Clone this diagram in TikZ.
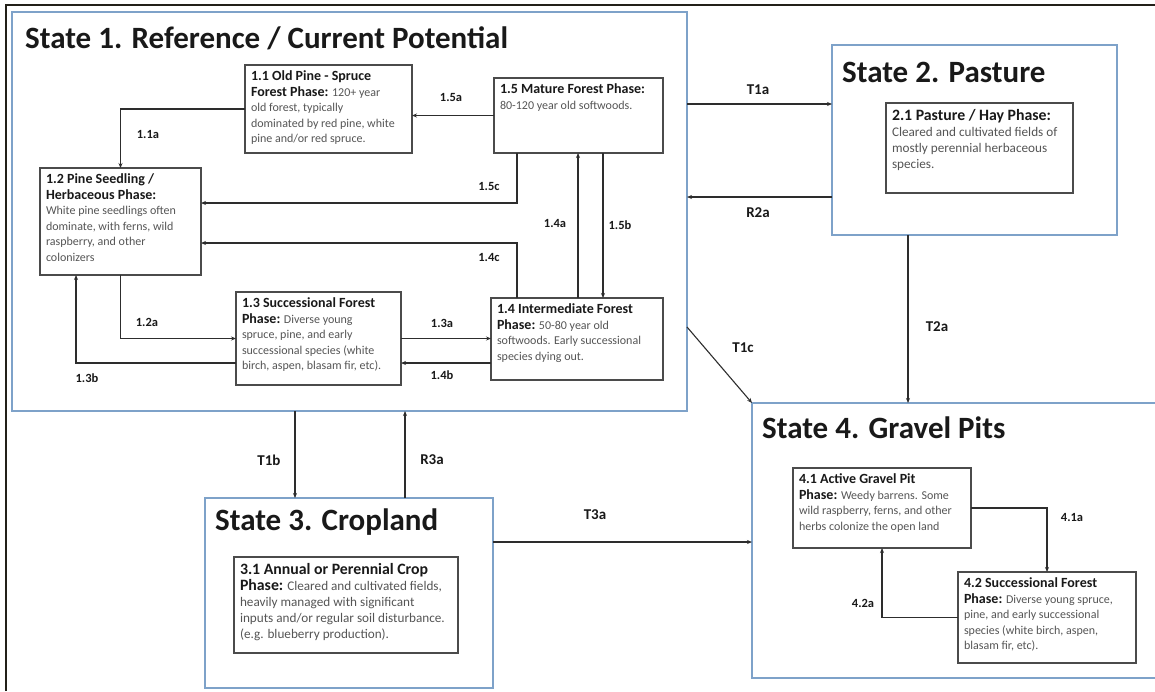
\documentclass[tikz,border=0pt]{standalone}
\usepackage{fontspec}
\setmainfont{Carlito}
\usetikzlibrary{positioning,arrows.meta}

\definecolor{stateblue}{RGB}{126,162,201}
\definecolor{boxgray}{RGB}{75,75,75}
\definecolor{arrgray}{RGB}{45,45,45}
\definecolor{txtgray}{RGB}{85,85,85}
\definecolor{hdblack}{RGB}{25,25,25}
\definecolor{framecol}{RGB}{35,32,25}

\newcommand{\hd}[1]{{\fontsize{14}{15.5}\selectfont\bfseries\color{hdblack}#1}}
\newcommand{\hdL}[1]{{\fontsize{15.8}{16}\selectfont\bfseries\color{hdblack}#1}}
\newcommand{\phtxt}[3]{\parbox[t][#2][t]{#1}{\raggedright\fontsize{12}{15.5}\selectfont\color{txtgray}#3}}
\newcommand{\phtxtL}[3]{\parbox[t][#2][t]{#1}{\raggedright\fontsize{13.2}{16}\selectfont\color{txtgray}#3}}

\begin{document}
\begin{tikzpicture}[
  x=1pt, y=-1pt,
  statebox/.style={draw=stateblue, line width=1.8pt, anchor=north west, inner sep=0pt, outer sep=0pt},
  phase/.style={draw=boxgray, line width=1.2pt, anchor=north west, inner sep=6pt, outer sep=0pt, fill=white},
  stitle/.style={anchor=west, inner sep=0pt, font=\fontsize{31}{31}\selectfont\bfseries, text=hdblack},
  lbl/.style={font=\fontsize{12.5}{13}\selectfont\bfseries, text=hdblack, inner sep=0pt},
  tlbl/.style={font=\fontsize{15}{16}\selectfont\bfseries, text=hdblack, inner sep=0pt},
  arr/.style={-{Stealth[length=5pt,width=4pt]}, draw=arrgray, line width=1.1pt},
  frame/.style={draw=framecol, line width=2pt}
]
\useasboundingbox (0,0) rectangle (1155,691);

\coordinate (fr1) at (6,691);
\coordinate (fr2) at (6,5);
\coordinate (fr3) at (1160,5);
\draw[frame] (fr1) -- (fr2) -- (fr3);

\node[statebox, minimum width=675pt, minimum height=399pt] (s1) at (12,12) {};
\node[statebox, minimum width=285pt, minimum height=190pt] (s2) at (832,45) {};
\node[statebox, minimum width=288pt, minimum height=190pt] (s3) at (205,498) {};
\node[statebox, minimum width=420pt, minimum height=275pt] (s4) at (752,403) {};

\node[stitle] (s1t) at (25,38) {State 1. Reference / Current Potential};
\node[stitle] (s2t) at (842,72) {State 2. Pasture};
\node[stitle] (s3t) at (215,522) {State 3. Cropland};
\node[stitle] (s4t) at (762,428) {State 4. Gravel Pits};

\node[phase] (b11) at (245,65) {\phtxt{155pt}{76pt}{\hd{1.1 Old Pine - Spruce}\\ \hd{Forest Phase:} 120+ year\\ old forest, typically\\ dominated by red pine, white\\ pine and/or red spruce.}};
\node[phase] (b15) at (494,78) {\phtxt{157pt}{63pt}{\hd{1.5 Mature Forest Phase:}\\ 80-120 year old softwoods.}};
\node[phase] (b12) at (40,168) {\phtxt{149pt}{95pt}{\hd{1.2 Pine Seedling /}\\ \hd{Herbaceous Phase:}\\ White pine seedlings often\\ dominate, with ferns, wild\\ raspberry, and other\\ colonizers}};
\node[phase] (b13) at (236,292) {\phtxt{153pt}{81pt}{\hd{1.3 Successional Forest}\\ \hd{Phase:} Diverse young\\ spruce, pine, and early\\ successional species (white\\ birch, aspen, blasam fir, etc).}};
\node[phase] (b14) at (491,298) {\phtxt{160pt}{70pt}{\hd{1.4 Intermediate Forest}\\ \hd{Phase:} 50-80 year old\\ softwoods. Early successional\\ species dying out.}};
\node[phase] (b21) at (886,103) {\phtxtL{175pt}{78pt}{\hdL{2.1 Pasture / Hay Phase:}\\ Cleared and cultivated fields of\\ mostly perennial herbaceous\\ species.}};
\node[phase] (b31) at (234,557) {\phtxtL{212pt}{84pt}{\hdL{3.1 Annual or Perennial Crop}\\ \hdL{Phase:} Cleared and cultivated fields,\\ heavily managed with significant\\ inputs and/or regular soil disturbance.\\ (e.g. blueberry production).}};
\node[phase] (b41) at (793,468) {\phtxt{166pt}{68pt}{\hd{4.1 Active Gravel Pit}\\ \hd{Phase:} Weedy barrens. Some\\ wild raspberry, ferns, and other\\ herbs colonize the open land}};
\node[phase] (b42) at (958,572) {\phtxt{166pt}{79pt}{\hd{4.2 Successional Forest}\\ \hd{Phase:} Diverse young spruce,\\ pine, and early successional\\ species (white birch, aspen,\\ blasam fir, etc).}};

\coordinate (c15c) at ([xshift=23pt]b15.south west);
\coordinate (c14c) at ([xshift=26pt]b14.north west);
\coordinate (c14a) at ([xshift=87pt]b14.north west);
\coordinate (c15b) at ([xshift=109pt]b15.south west);
\coordinate (c13b) at ([yshift=-24.5pt]b13.west);
\coordinate (c13bx) at ([xshift=36pt]b12.south west);
\coordinate (c14b) at ([yshift=-24pt]b14.west);
\coordinate (ct1a) at ([yshift=36pt]s2.west);
\coordinate (cr2a) at ([yshift=-57pt]s2.west);
\coordinate (ct2a) at ([xshift=-66.5pt]s2.south);
\coordinate (ct1c) at ([yshift=-115.5pt]s1.east);
\coordinate (ct1b) at ([xshift=90pt]s3.north west);
\coordinate (cr3a) at ([xshift=200pt]s3.north west);
\coordinate (ct3a) at ([yshift=51pt]s3.east);

\draw[arr] (b11.west) -| (b12.north);
\draw[arr] (b15.west) -- (b15.west -| b11.east);
\draw[arr] (c15c) |- ([yshift=18.5pt]b12.east);
\draw[arr] (c14c) |- ([yshift=-21.5pt]b12.east);
\draw[arr] (c14a) -- (c14a |- b15.south);
\draw[arr] (c15b) -- (c15b |- b14.north);
\draw[arr] (b12.south) |- (b13.west);
\draw[arr] (c13b) -| (c13bx);
\draw[arr] (b13.east) -- (b13.east -| b14.west);
\draw[arr] (c14b) -- (c14b -| b13.east);
\draw[arr] (b41.east) -| (b42.north);
\draw[arr] (b42.west) -| (b41.south);

\draw[arr] (ct1a -| s1.east) -- (ct1a);
\draw[arr] (cr2a) -- (cr2a -| s1.east);
\draw[arr] (ct2a) -- (ct2a |- s4.north);
\draw[arr] (ct1c) -- (s4.north west);
\draw[arr] (ct1b |- s1.south) -- (ct1b);
\draw[arr] (cr3a) -- (cr3a |- s1.south);
\draw[arr] (ct3a) -- (ct3a -| s4.west);

\node[lbl] (l11a) at (148,134) {1.1a};
\node[lbl] (l15a) at (451,97) {1.5a};
\node[lbl] (l15c) at (489,186) {1.5c};
\node[lbl] (l14a) at (555,223) {1.4a};
\node[lbl] (l15b) at (620,225) {1.5b};
\node[lbl] (l14c) at (489,257) {1.4c};
\node[lbl] (l12a) at (147,322) {1.2a};
\node[lbl] (l13a) at (442,323) {1.3a};
\node[lbl] (l13b) at (87,378) {1.3b};
\node[lbl] (l14b) at (442,375) {1.4b};
\node[lbl] (l41a) at (1072,517) {4.1a};
\node[lbl] (l42a) at (863,603) {4.2a};

\node[tlbl] (lt1a) at (758,90) {T1a};
\node[tlbl] (lr2a) at (758,213) {R2a};
\node[tlbl] (lt2a) at (937,327) {T2a};
\node[tlbl] (lt1c) at (743,348) {T1c};
\node[tlbl] (lt1b) at (269,460) {T1b};
\node[tlbl] (lr3a) at (432,460) {R3a};
\node[tlbl] (lt3a) at (595,515) {T3a};
\end{tikzpicture}
\end{document}
